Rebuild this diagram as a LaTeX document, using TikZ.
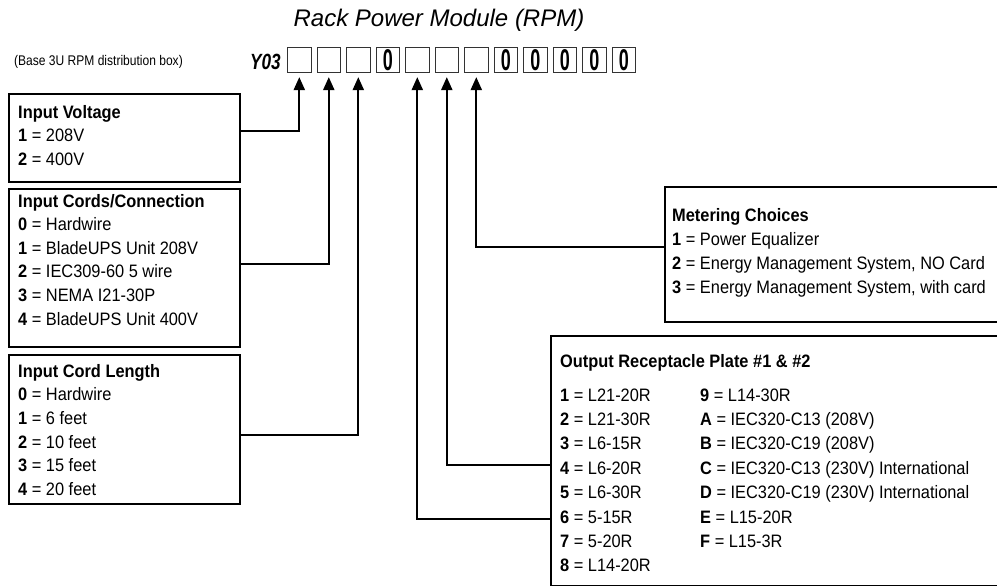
\documentclass[tikz,border=0pt]{standalone}
\usepackage{fontspec}
\usepackage{graphicx}
\setmainfont{Liberation Sans}
\newfontfamily\bodyfont{Liberation Sans}[FakeStretch=0.91]
\newfontfamily\smallnarrow{Liberation Sans}[FakeStretch=0.86]
\usetikzlibrary{arrows.meta}
\begin{document}
\begin{tikzpicture}[x=1pt,y=-1pt,
  panel/.style={draw, line width=2pt, inner sep=0pt, anchor=north west},
  cbox/.style={draw=black!80, line width=1.1pt, minimum width=23.5pt, minimum height=25pt, inner sep=0pt, anchor=north west},
  zero/.style={inner sep=0pt, font=\fontsize{30}{30}\selectfont\bfseries},
  item/.style={anchor=base west, inner sep=0pt, font=\bodyfont\fontsize{18}{20}\selectfont},
  ttl/.style={item, font=\bodyfont\fontsize{18}{20}\selectfont\bfseries},
  conn/.style={line width=2.2pt, -{Triangle[width=11pt,length=13pt]}, shorten >=4pt}
]
\useasboundingbox (0,0) rectangle (997,586);
\clip (0,0) rectangle (997,586);

% title
\node[font=\fontsize{24}{28}\selectfont\itshape, anchor=base, inner sep=0pt] (title) at (439,27) {Rack Power Module (RPM)};

% code row
\node[anchor=base east, inner sep=0pt, font=\smallnarrow\fontsize{14}{16}\selectfont] (base) at (183,66) {(Base 3U RPM distribution box)};
\node[anchor=base west, inner sep=0pt, font=\fontsize{22}{24}\selectfont\bfseries\itshape] (y03) at (250,70) {\scalebox{0.78}[1]{Y03}};
\foreach \i in {1,...,12} {
  \node[cbox] (c\i) at (257.5+29.5*\i, 47) {};
}
\foreach \i in {4,8,9,10,11,12} {
  \node[zero] (z\i) at (c\i) {\scalebox{0.6}[1]{0}};
}

% left boxes
\node[panel, minimum width=231pt, minimum height=88pt] (volt) at (8,93) {};
\node[ttl] (voltT) at (18,118) {Input Voltage};
\foreach \k/\t [count=\i] in {1/{208V}, 2/{400V}} {
  \node[item] (volt\i) at (18,118+23.5*\i) {\textbf{\k} = \t};
}

\node[panel, minimum width=231pt, minimum height=158pt] (cords) at (8,188) {};
\node[ttl] (cordsT) at (18,207) {Input Cords/Connection};
\foreach \k/\t [count=\i] in {0/{Hardwire}, 1/{BladeUPS Unit 208V}, 2/{IEC309-60 5 wire}, 3/{NEMA I21-30P}, 4/{BladeUPS Unit 400V}} {
  \node[item] (cords\i) at (18,207+23.6*\i) {\textbf{\k} = \t};
}

\node[panel, minimum width=231pt, minimum height=149pt] (len) at (8,354) {};
\node[ttl] (lenT) at (18,377) {Input Cord Length};
\foreach \k/\t [count=\i] in {0/{Hardwire}, 1/{6 feet}, 2/{10 feet}, 3/{15 feet}, 4/{20 feet}} {
  \node[item] (len\i) at (18,377+23.7*\i) {\textbf{\k} = \t};
}

% right boxes
\node[panel, minimum width=360pt, minimum height=135pt] (meter) at (664,186) {};
\node[ttl] (meterT) at (672,221) {Metering Choices};
\foreach \k/\t [count=\i] in {1/{Power Equalizer}, 2/{Energy Management System, NO Card}, 3/{Energy Management System, with card}} {
  \node[item] (meter\i) at (672,221+24*\i) {\textbf{\k} = \t};
}

\node[panel, minimum width=470pt, minimum height=250pt] (out) at (550,335) {};
\node[ttl] (outT) at (560,367) {Output Receptacle Plate \#1 \& \#2};
\foreach \k/\t [count=\i] in {1/{L21-20R}, 2/{L21-30R}, 3/{L6-15R}, 4/{L6-20R}, 5/{L6-30R}, 6/{5-15R}, 7/{5-20R}, 8/{L14-20R}} {
  \node[item] (outa\i) at (560,376.6+24.4*\i) {\textbf{\k} = \t};
}
\foreach \k/\t [count=\i] in {9/{L14-30R}, A/{IEC320-C13 (208V)}, B/{IEC320-C19 (208V)}, C/{IEC320-C13 (230V) International}, D/{IEC320-C19 (230V) International}, E/{L15-20R}, F/{L15-3R}} {
  \node[item] (outb\i) at (700,376.6+24.4*\i) {\textbf{\k} = \t};
}

% connectors
\draw[conn] ([yshift=-38pt]volt.north east) -| (c1.south);
\draw[conn] ([yshift=-76pt]cords.north east) -| (c2.south);
\draw[conn] ([yshift=-81pt]len.north east) -| (c3.south);
\draw[conn] ([yshift=-184pt]out.north west) -| (c5.south);
\draw[conn] ([yshift=-130pt]out.north west) -| (c6.south);
\draw[conn] ([yshift=-61pt]meter.north west) -| (c7.south);
\end{tikzpicture}
\end{document}
